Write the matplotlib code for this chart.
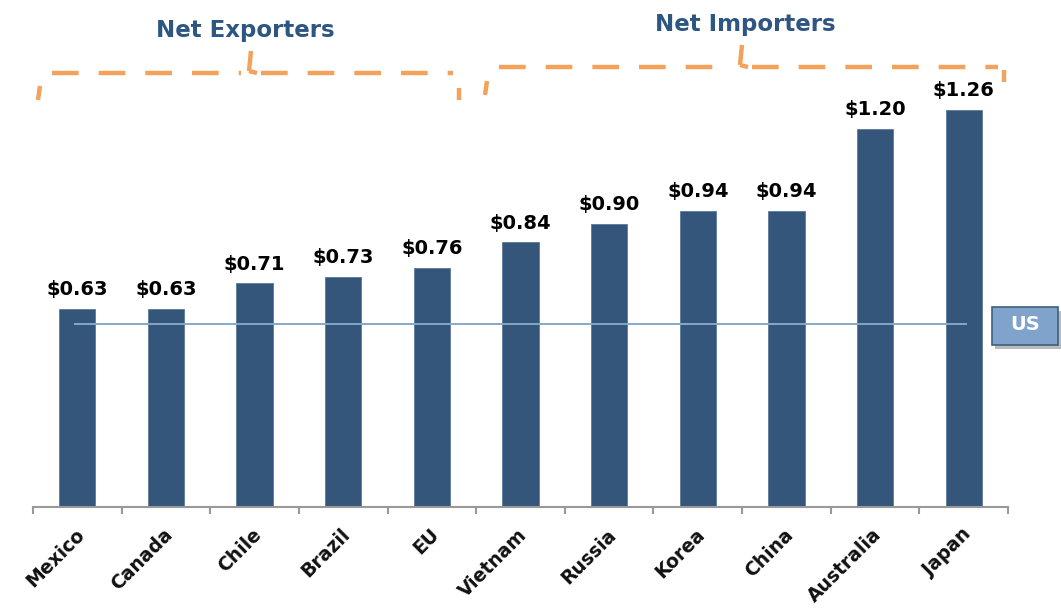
import matplotlib
matplotlib.use("Agg")
import matplotlib.pyplot as plt
from matplotlib.patches import FancyBboxPatch
import numpy as np

categories = ["Mexico", "Canada", "Chile", "Brazil", "EU", "Vietnam",
              "Russia", "Korea", "China", "Australia", "Japan"]
values = [0.63, 0.63, 0.71, 0.73, 0.76, 0.84, 0.90, 0.94, 0.94, 1.20, 1.26]
value_labels = ["$0.63", "$0.63", "$0.71", "$0.73", "$0.76", "$0.84",
                "$0.90", "$0.94", "$0.94", "$1.20", "$1.26"]
us_value = 0.58
group_labels = ["Net Exporters", "Net Importers"]

W, H = 1061, 608
fig = plt.figure(figsize=(W / 100, H / 100), dpi=100)
fig.patch.set_facecolor("white")

ax_left, ax_right = 33, 1008
ax_bottom, ax_top = 507, 3
ax = fig.add_axes([ax_left / W, (H - ax_bottom) / H,
                   (ax_right - ax_left) / W, (ax_bottom - ax_top) / H])
n = len(categories)
x = np.arange(n)
ax.set_xlim(-0.5, n - 0.5)
ax.set_ylim(0, 1.6)

bar_color = "#34567A"
ax.bar(x, values, width=0.41, color=bar_color, edgecolor="#5a7a9a", linewidth=0.6, zorder=2)

for xi, v, lab in zip(x, values, value_labels):
    ax.annotate(lab, (xi, v), xytext=(0, 7), textcoords="offset points",
                ha="center", va="bottom", fontsize=14, fontweight="bold",
                color="black", family="DejaVu Sans")

# US line
ax.plot([-0.03, n - 0.97], [us_value, us_value], color="#86A8C8", lw=1.4, zorder=3)

# axes styling
for s in ["top", "right", "left"]:
    ax.spines[s].set_visible(False)
ax.spines["bottom"].set_color("#999999")
ax.spines["bottom"].set_linewidth(1.5)
ax.set_yticks([])
ax.set_xticks(np.arange(-0.5, n, 1.0))
ax.set_xticklabels([])
ax.tick_params(axis="x", length=5, width=1.5, color="#999999")

for xi, c in zip(x, categories):
    ax.annotate(c, (xi, 0), xytext=(-2, -13), textcoords="offset points",
                ha="right", va="top", rotation=45, rotation_mode="anchor",
                fontsize=13.5, fontweight="bold", color="#111111")

# US box
box = FancyBboxPatch((992 / W, (H - 345) / H), 66 / W, 38 / H,
                     boxstyle="square,pad=0", transform=fig.transFigure,
                     facecolor="#7FA3CB", edgecolor="#3E5F80", linewidth=1.2, zorder=5)
shadow = FancyBboxPatch((995 / W, (H - 349) / H), 66 / W, 38 / H,
                        boxstyle="square,pad=0", transform=fig.transFigure,
                        facecolor="#bbbbbb", edgecolor="none", zorder=4)
fig.patches.append(shadow)
fig.patches.append(box)
fig.text(1025 / W, (H - 325) / H, "US", ha="center", va="center",
         fontsize=14, fontweight="bold", color="white", zorder=6)

# brackets (figure pixel coords)
orange = "#F2A25A"
def px(xp, yp):
    return xp / W, (H - yp) / H

def bracket(x0, x1, xc, y, yend0, yend1, ytip):
    kw = dict(transform=fig.transFigure, color=orange, lw=3.2,
              dashes=(6, 4.5), solid_capstyle="butt")
    solid = dict(transform=fig.transFigure, color=orange, lw=3.2, solid_capstyle="butt")
    fig.lines.append(plt.Line2D(*zip(px(x0 - 2, yend0), px(x0, yend0 - 14)), **solid))
    fig.lines.append(plt.Line2D(*zip(px(x0 + 12, y), px(xc - 10, y)), **kw))
    fig.lines.append(plt.Line2D(*zip(px(xc + 10, y), px(x1 - 6, y)), **kw))
    fig.lines.append(plt.Line2D(*zip(px(xc - 2, y - 2), px(xc, ytip)), **solid))
    fig.lines.append(plt.Line2D(*zip(px(xc - 2, y - 2), px(xc + 6, y)), **solid))
    fig.lines.append(plt.Line2D(*zip(px(x1, yend1 - 12), px(x1, yend1)), **solid))

bracket(40, 459, 251, 73, 100, 100, 51)
bracket(487, 1004, 742, 67, 95, 82, 45)

title_color = "#2D5782"
fig.text(245 / W, (H - 30) / H, group_labels[0], ha="center", va="center",
         fontsize=16.5, fontweight="bold", color=title_color)
fig.text(745 / W, (H - 24) / H, group_labels[1], ha="center", va="center",
         fontsize=16.5, fontweight="bold", color=title_color)

fig.savefig("out.png", dpi=100, facecolor="white")
